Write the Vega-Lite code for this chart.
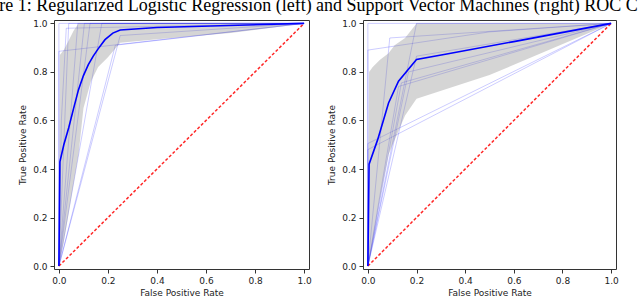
{
  "$schema": "https://vega.github.io/schema/vega-lite/v6.json",
  "padding": {"left": -1, "top": -4, "right": 0, "bottom": 0},
  "background": "white",
  "title": {"text": "re 1: Regularized Logistic Regression (left) and Support Vector Machines (right) ROC C", "font": "Liberation Serif", "fontSize": 18, "fontWeight": "normal", "color": "#000000", "anchor": "middle", "offset": 4},
  "config": {
    "view": {"stroke": "#333333", "strokeWidth": 1},
    "axis": {"grid": false, "domain": false, "labelFont": "DejaVu Sans", "labelFontSize": 9, "labelColor": "#222222", "tickColor": "#333333", "tickSize": 4, "labelPadding": 3, "titleFont": "DejaVu Sans", "titleFontSize": 9, "titleFontWeight": "normal", "titleColor": "#222222"},
    "axisX": {"titlePadding": 3},
    "axisY": {"titlePadding": 5}
  },
  "datasets": {
    "lr_folds": [
      {"fold": 1, "i": 0, "fpr": 0, "tpr": 0}, {"fold": 1, "i": 1, "fpr": 0, "tpr": 1}, {"fold": 1, "i": 2, "fpr": 1, "tpr": 1},
      {"fold": 2, "i": 0, "fpr": 0, "tpr": 0}, {"fold": 2, "i": 1, "fpr": 0, "tpr": 0.885}, {"fold": 2, "i": 2, "fpr": 1, "tpr": 1},
      {"fold": 3, "i": 0, "fpr": 0, "tpr": 0}, {"fold": 3, "i": 1, "fpr": 0.04, "tpr": 1}, {"fold": 3, "i": 2, "fpr": 1, "tpr": 1},
      {"fold": 4, "i": 0, "fpr": 0, "tpr": 0}, {"fold": 4, "i": 1, "fpr": 0.077, "tpr": 1}, {"fold": 4, "i": 2, "fpr": 1, "tpr": 1},
      {"fold": 5, "i": 0, "fpr": 0, "tpr": 0}, {"fold": 5, "i": 1, "fpr": 0.104, "tpr": 1}, {"fold": 5, "i": 2, "fpr": 1, "tpr": 1},
      {"fold": 6, "i": 0, "fpr": 0, "tpr": 0}, {"fold": 6, "i": 1, "fpr": 0.127, "tpr": 1}, {"fold": 6, "i": 2, "fpr": 1, "tpr": 1},
      {"fold": 7, "i": 0, "fpr": 0, "tpr": 0}, {"fold": 7, "i": 1, "fpr": 0.175, "tpr": 1}, {"fold": 7, "i": 2, "fpr": 1, "tpr": 1},
      {"fold": 8, "i": 0, "fpr": 0, "tpr": 0}, {"fold": 8, "i": 1, "fpr": 0.23, "tpr": 0.91}, {"fold": 8, "i": 2, "fpr": 1, "tpr": 1},
      {"fold": 9, "i": 0, "fpr": 0, "tpr": 0}, {"fold": 9, "i": 1, "fpr": 0.25, "tpr": 0.95}, {"fold": 9, "i": 2, "fpr": 1, "tpr": 1},
      {"fold": 10, "i": 0, "fpr": 0, "tpr": 0}, {"fold": 10, "i": 1, "fpr": 0.01, "tpr": 0.6}, {"fold": 10, "i": 2, "fpr": 0.03, "tpr": 0.98}, {"fold": 10, "i": 3, "fpr": 1, "tpr": 1}
    ],
    "lr_mean": [
      {"i": 0, "fpr": 0, "tpr": 0}, {"i": 1, "fpr": 0.004, "tpr": 0.43}, {"i": 2, "fpr": 0.02, "tpr": 0.5}, {"i": 3, "fpr": 0.04, "tpr": 0.57},
      {"i": 4, "fpr": 0.06, "tpr": 0.65}, {"i": 5, "fpr": 0.08, "tpr": 0.727}, {"i": 6, "fpr": 0.1, "tpr": 0.785}, {"i": 7, "fpr": 0.12, "tpr": 0.83},
      {"i": 8, "fpr": 0.14, "tpr": 0.865}, {"i": 9, "fpr": 0.16, "tpr": 0.895}, {"i": 10, "fpr": 0.188, "tpr": 0.933}, {"i": 11, "fpr": 0.22, "tpr": 0.96},
      {"i": 12, "fpr": 0.25, "tpr": 0.973}, {"i": 13, "fpr": 0.4, "tpr": 0.983}, {"i": 14, "fpr": 1, "tpr": 1}
    ],
    "lr_band": [
      {"fpr": 0, "lo": 0, "hi": 0}, {"fpr": 0.004, "lo": 0.02, "hi": 0.87}, {"fpr": 0.02, "lo": 0.1, "hi": 0.89},
      {"fpr": 0.04, "lo": 0.22, "hi": 0.93}, {"fpr": 0.06, "lo": 0.34, "hi": 0.97}, {"fpr": 0.08, "lo": 0.46, "hi": 1},
      {"fpr": 0.1, "lo": 0.65, "hi": 1}, {"fpr": 0.13, "lo": 0.76, "hi": 1}, {"fpr": 0.16, "lo": 0.82, "hi": 1},
      {"fpr": 0.2, "lo": 0.86, "hi": 1}, {"fpr": 0.25, "lo": 0.92, "hi": 1}, {"fpr": 0.4, "lo": 0.935, "hi": 1},
      {"fpr": 0.7, "lo": 0.96, "hi": 1}, {"fpr": 1, "lo": 1, "hi": 1}
    ],
    "svm_folds": [
      {"fold": 1, "i": 0, "fpr": 0, "tpr": 0}, {"fold": 1, "i": 1, "fpr": 0, "tpr": 1}, {"fold": 1, "i": 2, "fpr": 1, "tpr": 1},
      {"fold": 2, "i": 0, "fpr": 0, "tpr": 0}, {"fold": 2, "i": 1, "fpr": 0, "tpr": 0.89}, {"fold": 2, "i": 2, "fpr": 0.5, "tpr": 0.965}, {"fold": 2, "i": 3, "fpr": 1, "tpr": 1},
      {"fold": 3, "i": 0, "fpr": 0, "tpr": 0}, {"fold": 3, "i": 1, "fpr": 0.09, "tpr": 0.94}, {"fold": 3, "i": 2, "fpr": 1, "tpr": 1},
      {"fold": 4, "i": 0, "fpr": 0, "tpr": 0}, {"fold": 4, "i": 1, "fpr": 0.2, "tpr": 1}, {"fold": 4, "i": 2, "fpr": 1, "tpr": 1},
      {"fold": 5, "i": 0, "fpr": 0, "tpr": 0}, {"fold": 5, "i": 1, "fpr": 0.2, "tpr": 0.865}, {"fold": 5, "i": 2, "fpr": 1, "tpr": 1},
      {"fold": 6, "i": 0, "fpr": 0, "tpr": 0}, {"fold": 6, "i": 1, "fpr": 0.167, "tpr": 0.8}, {"fold": 6, "i": 2, "fpr": 1, "tpr": 1},
      {"fold": 7, "i": 0, "fpr": 0, "tpr": 0}, {"fold": 7, "i": 1, "fpr": 0.138, "tpr": 0.755}, {"fold": 7, "i": 2, "fpr": 1, "tpr": 1},
      {"fold": 8, "i": 0, "fpr": 0, "tpr": 0}, {"fold": 8, "i": 1, "fpr": 0.126, "tpr": 0.74}, {"fold": 8, "i": 2, "fpr": 1, "tpr": 1},
      {"fold": 9, "i": 0, "fpr": 0, "tpr": 0}, {"fold": 9, "i": 1, "fpr": 0, "tpr": 0.505}, {"fold": 9, "i": 2, "fpr": 1, "tpr": 1},
      {"fold": 10, "i": 0, "fpr": 0, "tpr": 0}, {"fold": 10, "i": 1, "fpr": 0, "tpr": 0.48}, {"fold": 10, "i": 2, "fpr": 1, "tpr": 1}
    ],
    "svm_mean": [
      {"i": 0, "fpr": 0, "tpr": 0}, {"i": 1, "fpr": 0.005, "tpr": 0.42}, {"i": 2, "fpr": 0.04, "tpr": 0.52}, {"i": 3, "fpr": 0.085, "tpr": 0.672},
      {"i": 4, "fpr": 0.126, "tpr": 0.762}, {"i": 5, "fpr": 0.2, "tpr": 0.851}, {"i": 6, "fpr": 0.33, "tpr": 0.875}, {"i": 7, "fpr": 0.6, "tpr": 0.925}, {"i": 8, "fpr": 1, "tpr": 1}
    ],
    "svm_band": [
      {"fpr": 0, "lo": 0, "hi": 0}, {"fpr": 0.005, "lo": 0.02, "hi": 0.8}, {"fpr": 0.02, "lo": 0.1, "hi": 0.82},
      {"fpr": 0.05, "lo": 0.28, "hi": 0.85}, {"fpr": 0.085, "lo": 0.46, "hi": 0.877}, {"fpr": 0.11, "lo": 0.52, "hi": 0.91},
      {"fpr": 0.153, "lo": 0.62, "hi": 0.94}, {"fpr": 0.2, "lo": 0.69, "hi": 1}, {"fpr": 0.5, "lo": 0.787, "hi": 1}, {"fpr": 1, "lo": 1, "hi": 1}
    ],
    "diag": [{"fpr": 0, "tpr": 0}, {"fpr": 1, "tpr": 1}]
  },
  "spacing": 15,
  "hconcat": [
    {
      "width": 255, "height": 249,
      "layer": [
        {"data": {"name": "lr_folds"}, "mark": {"type": "line", "color": "#0000ff", "opacity": 0.2, "strokeWidth": 1},
         "encoding": {
           "x": {"field": "fpr", "type": "quantitative", "scale": {"domain": [-0.02, 1.02], "nice": false, "zero": false}, "axis": {"values": [0, 0.2, 0.4, 0.6, 0.8, 1], "format": ".1f"}, "title": "False Positive Rate"},
           "y": {"field": "tpr", "type": "quantitative", "scale": {"domain": [-0.012, 1.014], "nice": false, "zero": false}, "axis": {"values": [0, 0.2, 0.4, 0.6, 0.8, 1], "format": ".1f"}, "title": "True Positive Rate"},
           "detail": {"field": "fold"}, "order": {"field": "i"}}},
        {"data": {"name": "lr_band"}, "mark": {"type": "area", "color": "#808080", "opacity": 0.33},
         "encoding": {"x": {"field": "fpr", "type": "quantitative", "title": "False Positive Rate"}, "y": {"field": "lo", "type": "quantitative", "title": "True Positive Rate"}, "y2": {"field": "hi"}}},
        {"data": {"name": "diag"}, "mark": {"type": "line", "color": "#ff0000", "opacity": 0.85, "strokeWidth": 1.5, "strokeDash": [3, 2]},
         "encoding": {"x": {"field": "fpr", "type": "quantitative", "title": "False Positive Rate"}, "y": {"field": "tpr", "type": "quantitative", "title": "True Positive Rate"}}},
        {"data": {"name": "lr_mean"}, "mark": {"type": "line", "color": "#0000ff", "strokeWidth": 1.6},
         "encoding": {"x": {"field": "fpr", "type": "quantitative", "title": "False Positive Rate"}, "y": {"field": "tpr", "type": "quantitative", "title": "True Positive Rate"}, "order": {"field": "i"}}}
      ]
    },
    {
      "width": 253, "height": 249,
      "layer": [
        {"data": {"name": "svm_folds"}, "mark": {"type": "line", "color": "#0000ff", "opacity": 0.2, "strokeWidth": 1},
         "encoding": {
           "x": {"field": "fpr", "type": "quantitative", "scale": {"domain": [-0.02, 1.02], "nice": false, "zero": false}, "axis": {"values": [0, 0.2, 0.4, 0.6, 0.8, 1], "format": ".1f"}, "title": "False Positive Rate"},
           "y": {"field": "tpr", "type": "quantitative", "scale": {"domain": [-0.012, 1.014], "nice": false, "zero": false}, "axis": {"values": [0, 0.2, 0.4, 0.6, 0.8, 1], "format": ".1f"}, "title": "True Positive Rate"},
           "detail": {"field": "fold"}, "order": {"field": "i"}}},
        {"data": {"name": "svm_band"}, "mark": {"type": "area", "color": "#808080", "opacity": 0.33},
         "encoding": {"x": {"field": "fpr", "type": "quantitative", "title": "False Positive Rate"}, "y": {"field": "lo", "type": "quantitative", "title": "True Positive Rate"}, "y2": {"field": "hi"}}},
        {"data": {"name": "diag"}, "mark": {"type": "line", "color": "#ff0000", "opacity": 0.85, "strokeWidth": 1.5, "strokeDash": [3, 2]},
         "encoding": {"x": {"field": "fpr", "type": "quantitative", "title": "False Positive Rate"}, "y": {"field": "tpr", "type": "quantitative", "title": "True Positive Rate"}}},
        {"data": {"name": "svm_mean"}, "mark": {"type": "line", "color": "#0000ff", "strokeWidth": 1.6},
         "encoding": {"x": {"field": "fpr", "type": "quantitative", "title": "False Positive Rate"}, "y": {"field": "tpr", "type": "quantitative", "title": "True Positive Rate"}, "order": {"field": "i"}}}
      ]
    }
  ]
}
